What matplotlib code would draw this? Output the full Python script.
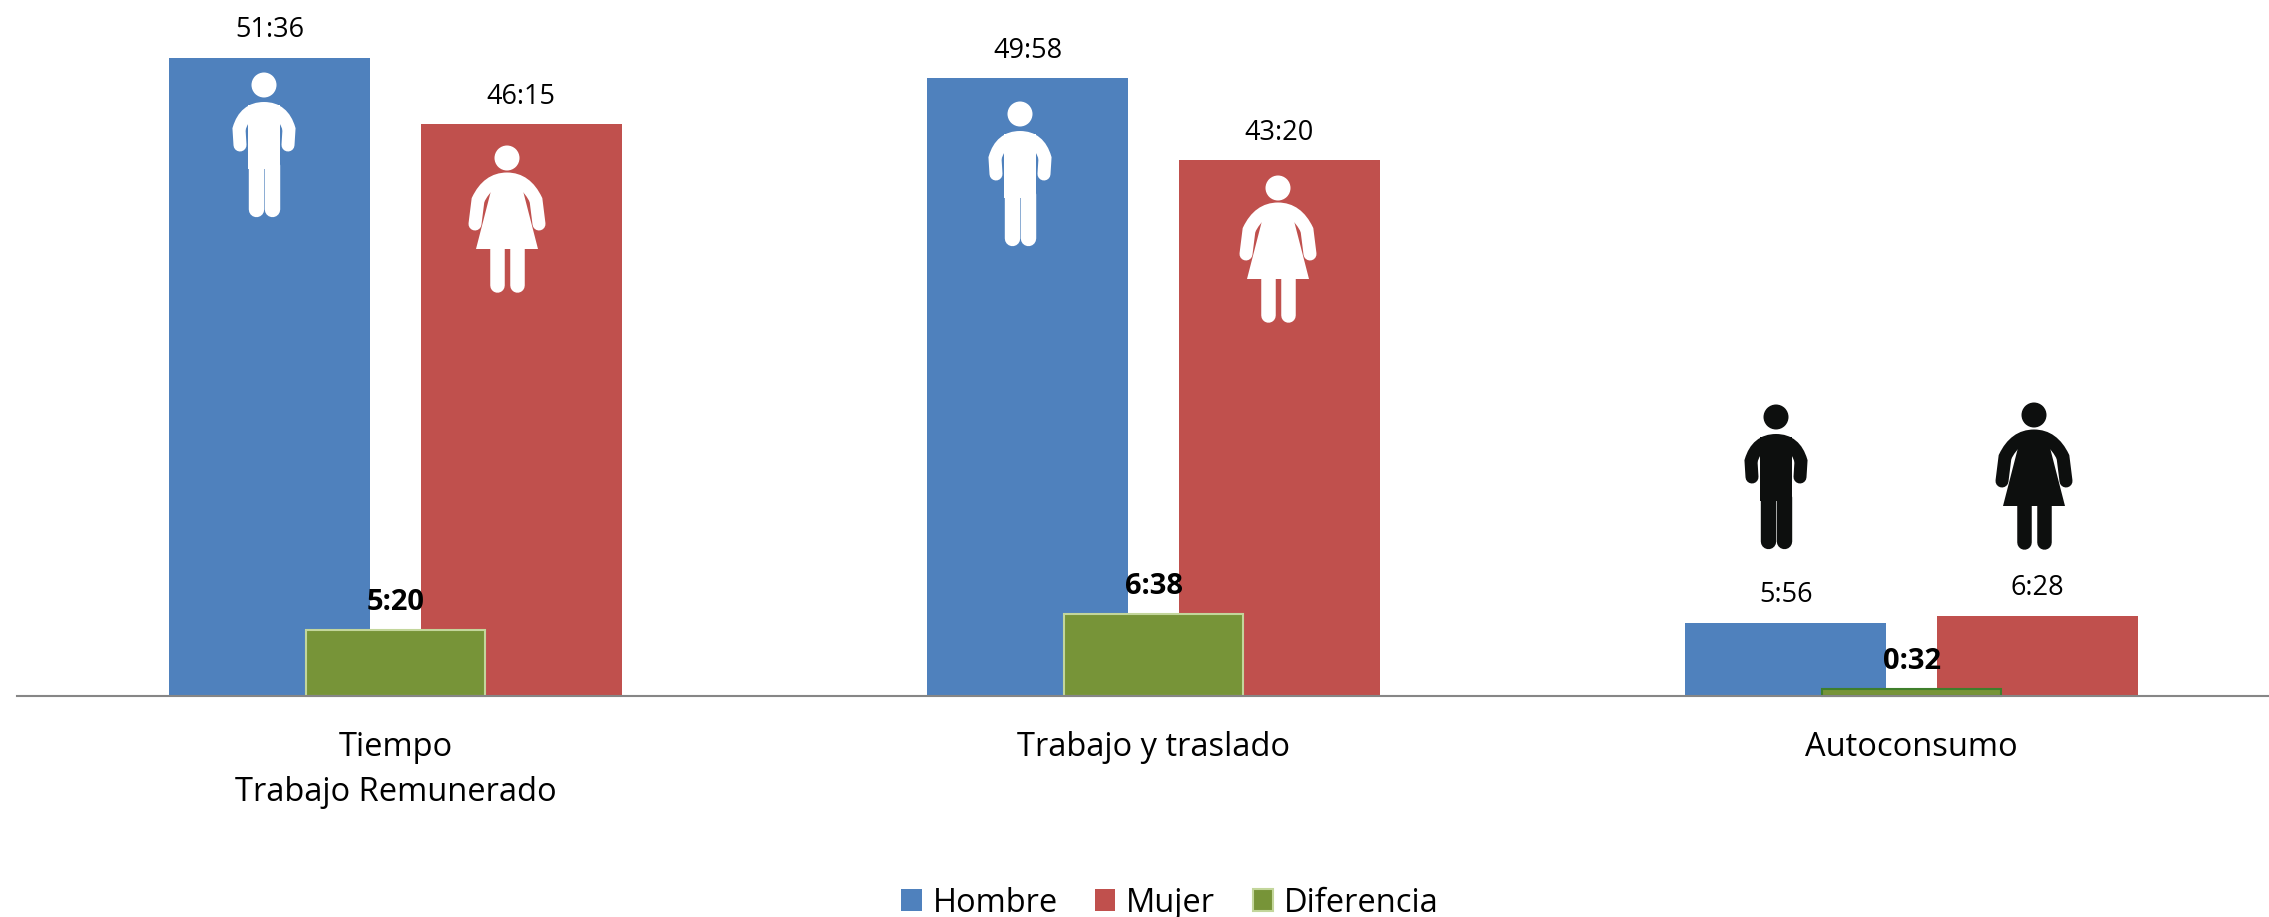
#!/usr/bin/env python3
"""Tiempo de trabajo remunerado por sexo, bars with person icons."""
import matplotlib
matplotlib.use('Agg')
import matplotlib.pyplot as plt
import numpy as np
from matplotlib.patches import Circle, PathPatch, Polygon
from matplotlib.path import Path
from matplotlib.transforms import Affine2D

W, H = 2269, 917

categorias = ['Tiempo\nTrabajo Remunerado', 'Trabajo y traslado', 'Autoconsumo']
hombre = ['51:36', '49:58', '5:56']
mujer = ['46:15', '43:20', '6:28']
diferencia = ['5:20', '6:38', '0:32']

AZUL = '#4f81bd'
ROJO = '#c0504d'
VERDE = '#779438'
NEGRO = '#0d0f0e'


def minutos(vals):
    out = []
    for v in vals:
        h, m = v.split(':')
        out.append(int(h) * 60 + int(m))
    return np.array(out)


def persona(ax, tr, cx, cy, color, mujer_icon=False):
    # cx, cy = head centre in image pixels
    base = Affine2D().translate(cx, cy) + tr
    ax.add_patch(Circle((0, 0), 12.5, fc=color, ec='none', transform=base, zorder=5))
    if mujer_icon:
        arms = [(-32, 66), (-29, 42), (-19, 21), (0, 21), (19, 21), (29, 42), (32, 66)]
        body = [(-14, 25), (14, 25), (31, 91), (-31, 91)]
        legs = [(-10.5, 88, 127), (9.5, 88, 127)]
        leg_w = 14.5
    else:
        arms = [(-24, 60), (-25, 44), (-19, 23.5), (0, 23.5), (19, 23.5), (25, 44), (24, 60)]
        body = [(-16, 20), (16, 20), (16, 84), (-16, 84)]
        legs = [(-8.3, 80, 123.5), (8.3, 80, 123.5)]
        leg_w = 15.4
    codes = [Path.MOVETO, Path.LINETO, Path.CURVE3, Path.CURVE3, Path.CURVE3, Path.CURVE3, Path.LINETO]
    ax.add_patch(PathPatch(Path(arms, codes), fc='none', ec=color, lw=13 * 0.72,
                           capstyle='round', transform=base, zorder=5))
    ax.add_patch(Polygon(body, closed=True, fc=color, ec='none', transform=base, zorder=5))
    for lx, y0, y1 in legs:
        ax.add_patch(PathPatch(Path([(lx, y0), (lx, y1)]), fc='none', ec=color, lw=leg_w * 0.72,
                               capstyle='round', transform=base, zorder=5))


def main():
    plt.rcParams['font.family'] = ['Open Sans', 'DejaVu Sans']
    fig = plt.figure(figsize=(W / 100, H / 100), dpi=100)
    ax = fig.add_axes([0, 0, 1, 1])

    # pixel geometry of the original layout
    x0_px, paso_px = 395.5, 758
    base_px, px_min = 696, 0.206
    ax.set_xlim(-x0_px / paso_px, (W - x0_px) / paso_px)
    ax.set_ylim(-(H - base_px) / px_min, base_px / px_min)

    x = np.arange(len(categorias))
    ancho, desp, ancho_dif = 0.266, 0.166, 0.236
    h_vals = minutos(hombre)
    m_vals = minutos(mujer)
    d_vals = minutos(diferencia)

    ax.bar(x - desp, h_vals, ancho, color=AZUL, label='Hombre', zorder=2)
    ax.bar(x + desp, m_vals, ancho, color=ROJO, label='Mujer', zorder=2)
    ax.bar(x, d_vals, ancho_dif, color=VERDE, edgecolor=['#c3d69b', '#c3d69b', '#3f7f2b'],
           linewidth=1.5, label='Diferencia', zorder=3)

    for xs, vals, txts, peso, fs in [(x - desp, h_vals, hombre, 'normal', 19.5),
                                     (x + desp, m_vals, mujer, 'normal', 19.5),
                                     (x, d_vals, diferencia, 'bold', 21)]:
        for xi, v, t in zip(xs, vals, txts):
            ax.annotate(t, (xi, v), xytext=(0, 20), textcoords='offset points', ha='center',
                        va='center', fontsize=fs, fontweight=peso, color='black', zorder=6)

    # icons, in image pixels (y down)
    tr = Affine2D().scale(1, -1).translate(0, H)
    persona(ax, tr, 264, 85, 'white')
    persona(ax, tr, 507, 158, 'white', True)
    persona(ax, tr, 1020, 114, 'white')
    persona(ax, tr, 1278, 188, 'white', True)
    persona(ax, tr, 1776, 417, NEGRO)
    persona(ax, tr, 2034, 415, NEGRO, True)

    for s in ['top', 'left', 'right']:
        ax.spines[s].set_visible(False)
    ax.spines['bottom'].set_position(('data', 0))
    ax.spines['bottom'].set_color('#868686')
    ax.spines['bottom'].set_linewidth(1.5)
    ax.spines['bottom'].set_zorder(4)
    ax.spines['bottom'].set_bounds(-(x0_px - 17) / paso_px, ax.get_xlim()[1])
    ax.set_yticks([])
    ax.set_xticks(x)
    ax.set_xticklabels(categorias, fontsize=23.5, linespacing=1.5)
    ax.tick_params(axis='x', length=0, pad=25)

    ax.legend(loc='center', bbox_to_anchor=(1170 / W, 1 - 903 / H), ncols=3, frameon=False,
              fontsize=23.5, handlelength=0.62, handleheight=0.65, handletextpad=0.33,
              columnspacing=1.15, borderpad=0, borderaxespad=0)

    fig.savefig('out.png', dpi=100)
    plt.close(fig)


if __name__ == '__main__':
    main()
